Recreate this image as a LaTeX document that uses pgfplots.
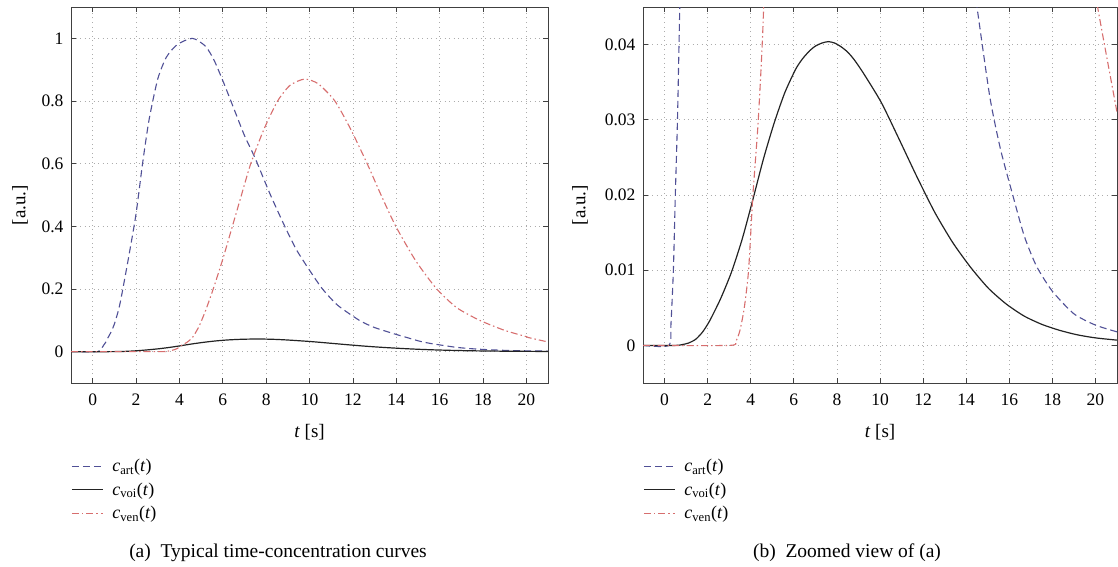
\documentclass[border=0pt]{standalone}
\usepackage{fontspec}
\setmainfont{Liberation Serif}
\usepackage{pgfplots}
\pgfplotsset{compat=1.18}
\usepackage{pgfplotstable}

\definecolor{cart}{RGB}{80,80,150}
\definecolor{cven}{RGB}{215,110,110}
\definecolor{cvoi}{RGB}{35,35,35}

\pgfplotstableread{
t y
-1 0
0.2 0
0.3 0.003
0.41 0.01
0.5 0.02
0.6 0.03
0.7 0.044
0.85 0.063
1.0 0.088
1.2 0.135
1.35 0.185
1.68 0.31
2.0 0.44
2.3 0.6
2.6 0.74
3.0 0.87
3.4 0.94
3.9 0.98
4.6 1.0
5.2 0.975
5.6 0.93
6.06 0.855
6.6 0.76
7.0 0.69
7.41 0.63
7.6 0.6
8.2 0.5
8.86 0.4
9.4 0.325
10 0.26
10.6 0.2
11.3 0.148
12.3 0.1
13 0.077
14 0.055
14.5 0.045
15.1 0.033
15.6 0.026
16.16 0.02
16.7 0.0145
17.27 0.0105
18 0.0072
19 0.0042
20 0.0027
21 0.0018
}\art

\pgfplotstableread{
t y
-1 0
0.5 0
0.8 0.0001
1.1 0.0003
1.44 0.0008
1.77 0.0018
2.1 0.0033
2.6 0.0062
3.1 0.0097
3.6 0.0141
4.1 0.0194
4.59 0.0248
5.09 0.0296
5.58 0.0336
6.08 0.0367
6.4 0.0381
6.74 0.0392
7.0 0.0398
7.3 0.0402
7.6 0.0404
7.9 0.0402
8.2 0.0397
8.5 0.0390
8.8 0.0380
9.23 0.0362
10.06 0.0323
10.89 0.0274
11.7 0.0225
12.54 0.0177
13.37 0.0137
14.2 0.0104
15.03 0.0076
15.86 0.0055
16.69 0.0039
17.51 0.0028
18.34 0.0020
19.17 0.0014
20 0.0010
21 0.0007
}\voi

\pgfplotstableread{
t y
-1 0
3.0 0
3.3 0.0005
3.5 0.002
3.7 0.005
3.9 0.01
4.1 0.02
4.35 0.03
4.6 0.045
4.9 0.08
5.2 0.13
5.56 0.2
6.0 0.295
6.4 0.39
6.8 0.485
7.29 0.6
7.9 0.71
8.53 0.8
9.1 0.85
9.77 0.87
10.4 0.855
11.17 0.8
11.9 0.71
12.66 0.6
13.3 0.5
13.98 0.4
14.9 0.29
15.87 0.2
16.8 0.14
17.85 0.1
19 0.068
20 0.048
20.1 0.045
21 0.031
}\ven

\pgfplotsset{
  myax/.style={
    scale only axis,
    height=376pt,
    xmin=-1, xmax=21,
    xtick={0,2,...,20},
    grid=major,
    major grid style={gray!65, dash pattern=on 1pt off 3.5pt, line width=0.7pt},
    tick align=inside,
    major tick length=5pt,
    axis line style={line width=0.9pt, black!75},
    every tick/.style={black!75, line width=0.7pt},
    tick label style={font=\fontsize{17.5}{20}\selectfont},
    xticklabel style={yshift=-7pt},
    yticklabel style={xshift=-4pt},
    /pgf/number format/assume math mode=true,
    scaled y ticks=false,
    xlabel={\textit{t} [s]},
    ylabel={[a.u.]},
    label style={font=\fontsize{19}{22}\selectfont},
    xlabel style={at={(axis description cs:0.5,0)}, anchor=center, yshift=-49pt},
    legend style={draw=none, fill=none, at={(0,0)}, anchor=north west,
      xshift=-3pt, yshift=-72pt, font=\fontsize{18}{21}\selectfont,
      row sep=5.5pt, column sep=7pt, cells={anchor=west}},
    legend image code/.code={\draw[##1] (0pt,0pt) -- (31pt,0pt);},
    clip=true,
  },
  artst/.style={color=cart, dash pattern=on 7pt off 4pt, line width=1.1pt},
  voist/.style={color=cvoi, line width=1.2pt},
  venst/.style={color=cven, dash pattern=on 7pt off 3pt on 1.5pt off 3pt, line width=1.1pt},
}

\begin{document}
\begin{tikzpicture}
\useasboundingbox (0,0) rectangle (1118pt,-567pt);

\begin{axis}[myax, width=477pt, at={(71pt,-383pt)}, anchor=south west,
  ymin=-0.1, ymax=1.1, ytick={0,0.2,0.4,0.6,0.8,1},
  yticklabels={0,0.2,0.4,0.6,0.8,1},
  ylabel style={at={([xshift=-51pt]axis description cs:0,0.473)}, anchor=center}]
\addplot[artst, smooth, tension=0.4] table[x=t,y=y]{\art};
\addlegendentry{\textit{c}\textsubscript{art}(\textit{t})}
\addplot[voist, smooth, tension=0.4] table[x=t,y=y]{\voi};
\addlegendentry{\textit{c}\textsubscript{voi}(\textit{t})}
\addplot[venst, smooth, tension=0.4] table[x=t,y=y]{\ven};
\addlegendentry{\textit{c}\textsubscript{ven}(\textit{t})}
\end{axis}

\begin{axis}[myax, width=474pt, at={(643pt,-383pt)}, anchor=south west,
  ymin=-0.005, ymax=0.045, ytick={0,0.01,0.02,0.03,0.04},
  yticklabels={0,0.01,0.02,0.03,0.04},
  ylabel style={at={([xshift=-63pt]axis description cs:0,0.473)}, anchor=center}]
\addplot[artst, smooth, tension=0.4] table[x=t,y=y]{\art};
\addlegendentry{\textit{c}\textsubscript{art}(\textit{t})}
\addplot[voist, smooth, tension=0.4] table[x=t,y=y]{\voi};
\addlegendentry{\textit{c}\textsubscript{voi}(\textit{t})}
\addplot[venst, smooth, tension=0.4] table[x=t,y=y]{\ven};
\addlegendentry{\textit{c}\textsubscript{ven}(\textit{t})}
\end{axis}

\node[font=\fontsize{19.5}{22}\selectfont] at (278pt,-553pt) {(a)\enspace Typical time-concentration curves};
\node[font=\fontsize{19.5}{22}\selectfont] at (847pt,-553pt) {(b)\enspace Zoomed view of (a)};
\end{tikzpicture}
\end{document}
